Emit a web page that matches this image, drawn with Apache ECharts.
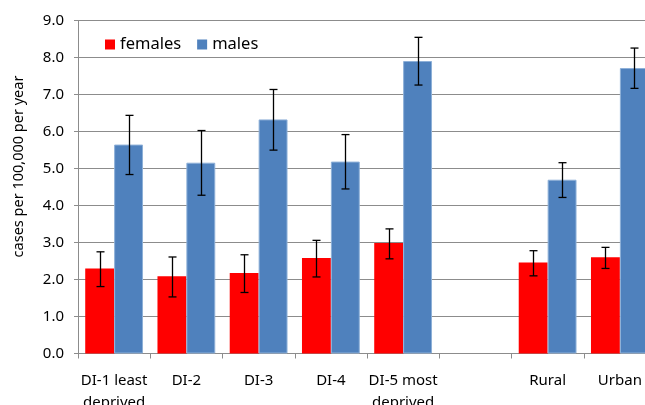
<!DOCTYPE html>
<html>
<head>
<meta charset="utf-8">
<style>
  html, body { margin: 0; padding: 0; background: #fff; }
  #chart { width: 645px; height: 405px; }
</style>
<script src="https://cdn.jsdelivr.net/npm/echarts@6/dist/echarts.min.js"></script>
</head>
<body>
<div id="chart"></div>
<script>
// Incidence by deprivation index and by rural/urban residence
const categories = ['DI-1 least\ndeprived', 'DI-2', 'DI-3', 'DI-4', 'DI-5 most\ndeprived', '', 'Rural', 'Urban'];

const femalesRate = [2.30, 2.09, 2.18, 2.58, 2.99, null, 2.46, 2.60];
const femalesLow  = [1.81, 1.53, 1.65, 2.07, 2.56, null, 2.10, 2.30];
const femalesHigh = [2.75, 2.61, 2.67, 3.06, 3.37, null, 2.78, 2.87];

const malesRate = [5.65, 5.16, 6.33, 5.19, 7.91, null, 4.70, 7.72];
const malesLow  = [4.84, 4.28, 5.50, 4.45, 7.26, null, 4.22, 7.17];
const malesHigh = [6.44, 6.03, 7.14, 5.92, 8.55, null, 5.16, 8.26];

const yTicks = { min: 0, max: 9, interval: 1 };

const FONT = 'Noto Sans';
const RED = '#FF0000';
const BLUE = '#4F81BD';

function errorData(low, high) {
  const out = [];
  for (let i = 0; i < categories.length; i++) {
    if (low[i] != null) out.push([i, low[i], high[i]]);
  }
  return out;
}

// Whisker with caps, shifted to the centre of its bar within the band
function errorRenderer(side) {
  return function (params, api) {
    const idx = api.value(0);
    const lo = api.coord([idx, api.value(1)]);
    const hi = api.coord([idx, api.value(2)]);
    const band = api.size([1, 0])[0];
    const x = Math.round(lo[0] + side * band * 0.2) + 0.5;
    const cap = 4;
    const style = { stroke: '#000', lineWidth: 1.3 };
    return {
      type: 'group',
      children: [
        { type: 'line', shape: { x1: x, y1: hi[1], x2: x, y2: lo[1] }, style: style },
        { type: 'line', shape: { x1: x - cap, y1: hi[1], x2: x + cap, y2: hi[1] }, style: style },
        { type: 'line', shape: { x1: x - cap, y1: lo[1], x2: x + cap, y2: lo[1] }, style: style }
      ]
    };
  };
}

const chart = echarts.init(document.getElementById('chart'), null, { renderer: 'canvas' });

chart.setOption({
  animation: false,
  textStyle: { fontFamily: FONT },
  grid: {
    left: 78, top: 20.7, width: 578, height: 332.8,
    containLabel: false, outerBoundsMode: 'none'
  },
  legend: {
    left: 100, top: 31,
    itemWidth: 10, itemHeight: 10, itemGap: 16,
    icon: 'rect',
    itemStyle: { borderWidth: 0 },
    textStyle: { fontFamily: FONT, fontSize: 16.5, color: '#000', padding: [0, 0, 0, 0] },
    data: ['females', 'males']
  },
  xAxis: {
    type: 'category',
    data: categories,
    axisLine: { lineStyle: { color: '#8c8c8c', width: 1 } },
    axisTick: { show: true, alignWithLabel: false, length: 5, lineStyle: { color: '#8c8c8c' } },
    axisLabel: { fontFamily: FONT, fontSize: 15, color: '#000', margin: 16, lineHeight: 22, interval: 0 }
  },
  yAxis: {
    type: 'value',
    min: yTicks.min, max: yTicks.max, interval: yTicks.interval,
    axisLine: { show: true, lineStyle: { color: '#8c8c8c' } },
    axisTick: { show: true, length: 4, lineStyle: { color: '#8c8c8c' } },
    axisLabel: { fontFamily: FONT, fontSize: 15, color: '#000', margin: 14, formatter: v => v.toFixed(1) },
    splitLine: { show: true, lineStyle: { color: '#8c8c8c', width: 1 } }
  },
  graphic: [{
    type: 'text',
    x: 18.5, y: 166.5,
    rotation: Math.PI / 2,
    style: {
      text: 'cases per 100,000 per year',
      font: '14.5px "' + FONT + '"',
      fill: '#000',
      align: 'center',
      verticalAlign: 'middle'
    }
  }],
  series: [
    {
      name: 'females', type: 'bar', data: femalesRate,
      barGap: '0%', barCategoryGap: '20%',
      itemStyle: { color: RED }
    },
    {
      name: 'males', type: 'bar', data: malesRate,
      barGap: '0%', barCategoryGap: '20%',
      itemStyle: { color: BLUE, borderColor: '#8eb0d8', borderWidth: 1 }
    },
    {
      type: 'custom', name: 'females-ci', renderItem: errorRenderer(-1),
      data: errorData(femalesLow, femalesHigh), z: 10,
      encode: { x: 0, y: [1, 2] }
    },
    {
      type: 'custom', name: 'males-ci', renderItem: errorRenderer(1),
      data: errorData(malesLow, malesHigh), z: 10,
      encode: { x: 0, y: [1, 2] }
    }
  ]
});
</script>
</body>
</html>
